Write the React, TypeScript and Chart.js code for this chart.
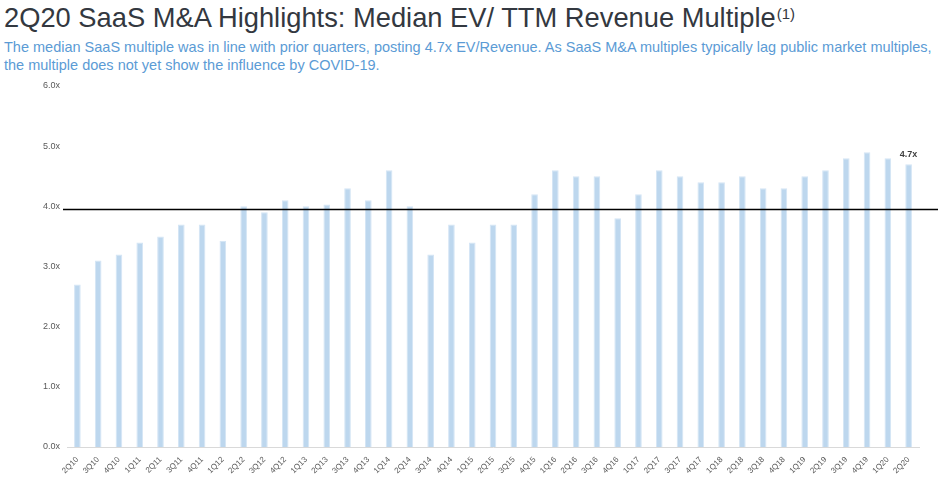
import React, { useEffect, useRef } from "react";
import { Chart, registerables } from "chart.js";

Chart.register(...registerables);

const titleText = "2Q20 SaaS M&A Highlights: Median EV/ TTM Revenue Multiple";
const titleNote = "(1)";
const subtitleLines = [
  "The median SaaS multiple was in line with prior quarters, posting 4.7x EV/Revenue. As SaaS M&A multiples typically lag public market multiples,",
  "the multiple does not yet show the influence by COVID-19.",
];

const quarters = [
  "2Q10", "3Q10", "4Q10",
  "1Q11", "2Q11", "3Q11", "4Q11",
  "1Q12", "2Q12", "3Q12", "4Q12",
  "1Q13", "2Q13", "3Q13", "4Q13",
  "1Q14", "2Q14", "3Q14", "4Q14",
  "1Q15", "2Q15", "3Q15", "4Q15",
  "1Q16", "2Q16", "3Q16", "4Q16",
  "1Q17", "2Q17", "3Q17", "4Q17",
  "1Q18", "2Q18", "3Q18", "4Q18",
  "1Q19", "2Q19", "3Q19", "4Q19",
  "1Q20", "2Q20",
];

const medianMultiples = [
  2.7, 3.1, 3.2,
  3.4, 3.5, 3.7, 3.7,
  3.43, 4.0, 3.9, 4.1,
  4.0, 4.03, 4.3, 4.1,
  4.6, 4.0, 3.2, 3.7,
  3.4, 3.7, 3.7, 4.2,
  4.6, 4.5, 4.5, 3.8,
  4.2, 4.6, 4.5, 4.4,
  4.4, 4.5, 4.3, 4.3,
  4.5, 4.6, 4.8, 4.9,
  4.8, 4.7,
];

const referenceLine = 3.96;
const lastLabel = "4.7x";
const yTicks = [0, 1, 2, 3, 4, 5, 6];

const FONT = '"Liberation Sans", Arial, sans-serif';

const overlayPlugin = {
  id: "overlay",
  afterDatasetsDraw(chart: any) {
    const { ctx, chartArea, scales } = chart;
    const yPix = Math.round(scales.y.getPixelForValue(referenceLine)) + 0.5;
    ctx.save();
    ctx.strokeStyle = "#000000";
    ctx.lineWidth = 1.3;
    ctx.beginPath();
    ctx.moveTo(chartArea.left - 4, yPix);
    ctx.lineTo(chartArea.right + 19, yPix);
    ctx.stroke();

    const meta = chart.getDatasetMeta(0);
    const last = meta.data[meta.data.length - 1];
    ctx.font = `bold 9px ${FONT}`;
    ctx.fillStyle = "#3f3f3f";
    ctx.textAlign = "center";
    ctx.textBaseline = "bottom";
    ctx.fillText(lastLabel, last.x, last.y - 5);
    ctx.restore();
  },
};

export default function App() {
  const canvasRef = useRef<HTMLCanvasElement | null>(null);

  useEffect(() => {
    const canvas = canvasRef.current;
    if (!canvas) return;
    const chart = new Chart(canvas, {
      type: "bar",
      data: {
        labels: quarters,
        datasets: [
          {
            data: medianMultiples,
            backgroundColor: "#BDD7EE",
            borderColor: "#D4E5F5",
            borderWidth: 1,
            barPercentage: 0.32,
            categoryPercentage: 1,
          },
        ],
      },
      options: {
        animation: false,
        responsive: false,
        maintainAspectRatio: false,
        layout: { padding: { top: 86, right: 29, left: 0, bottom: 0 } },
        plugins: {
          legend: { display: false },
          tooltip: { enabled: false },
        },
        scales: {
          x: {
            grid: { display: false, drawTicks: false },
            border: { display: true, color: "#D9D9D9", width: 1 },
            ticks: {
              autoSkip: false,
              maxRotation: 45,
              minRotation: 45,
              padding: 8,
              color: "#595959",
              font: { family: FONT, size: 8 },
            },
            afterFit(scale: any) {
              scale.height = 35;
            },
          },
          y: {
            min: 0,
            max: 6,
            afterBuildTicks(scale: any) {
              scale.ticks = yTicks.map((v) => ({ value: v }));
            },
            grid: { display: false, drawTicks: false },
            border: { display: false },
            ticks: {
              padding: 7,
              color: "#595959",
              font: { family: FONT, size: 9 },
              callback: (v: any) => Number(v).toFixed(1) + "x",
            },
            afterFit(scale: any) {
              scale.width = 67;
            },
          },
        },
      },
      plugins: [overlayPlugin],
    });
    return () => chart.destroy();
  }, []);

  return (
    <div
      style={{
        position: "fixed",
        left: 0,
        top: 0,
        width: 948,
        height: 482,
        background: "#ffffff",
        overflow: "hidden",
        fontFamily: FONT,
      }}
    >
      <div
        style={{
          position: "absolute",
          left: 4,
          top: 1,
          fontSize: 27.3,
          color: "#333840",
          whiteSpace: "nowrap",
          lineHeight: "34px",
        }}
      >
        {titleText}
        <sup style={{ fontSize: 15, verticalAlign: "top", position: "relative", top: -4, marginLeft: 1 }}>{titleNote}</sup>
      </div>
      <div
        style={{
          position: "absolute",
          left: 4,
          top: 39,
          fontSize: 14.5,
          color: "#5B9BD5",
          lineHeight: "17.5px",
          whiteSpace: "nowrap",
        }}
      >
        {subtitleLines.map((l, i) => (
          <div key={i}>{l}</div>
        ))}
      </div>
      <canvas
        ref={canvasRef}
        width={948}
        height={482}
        style={{ position: "absolute", left: 0, top: 0, width: 948, height: 482 }}
      />
    </div>
  );
}
